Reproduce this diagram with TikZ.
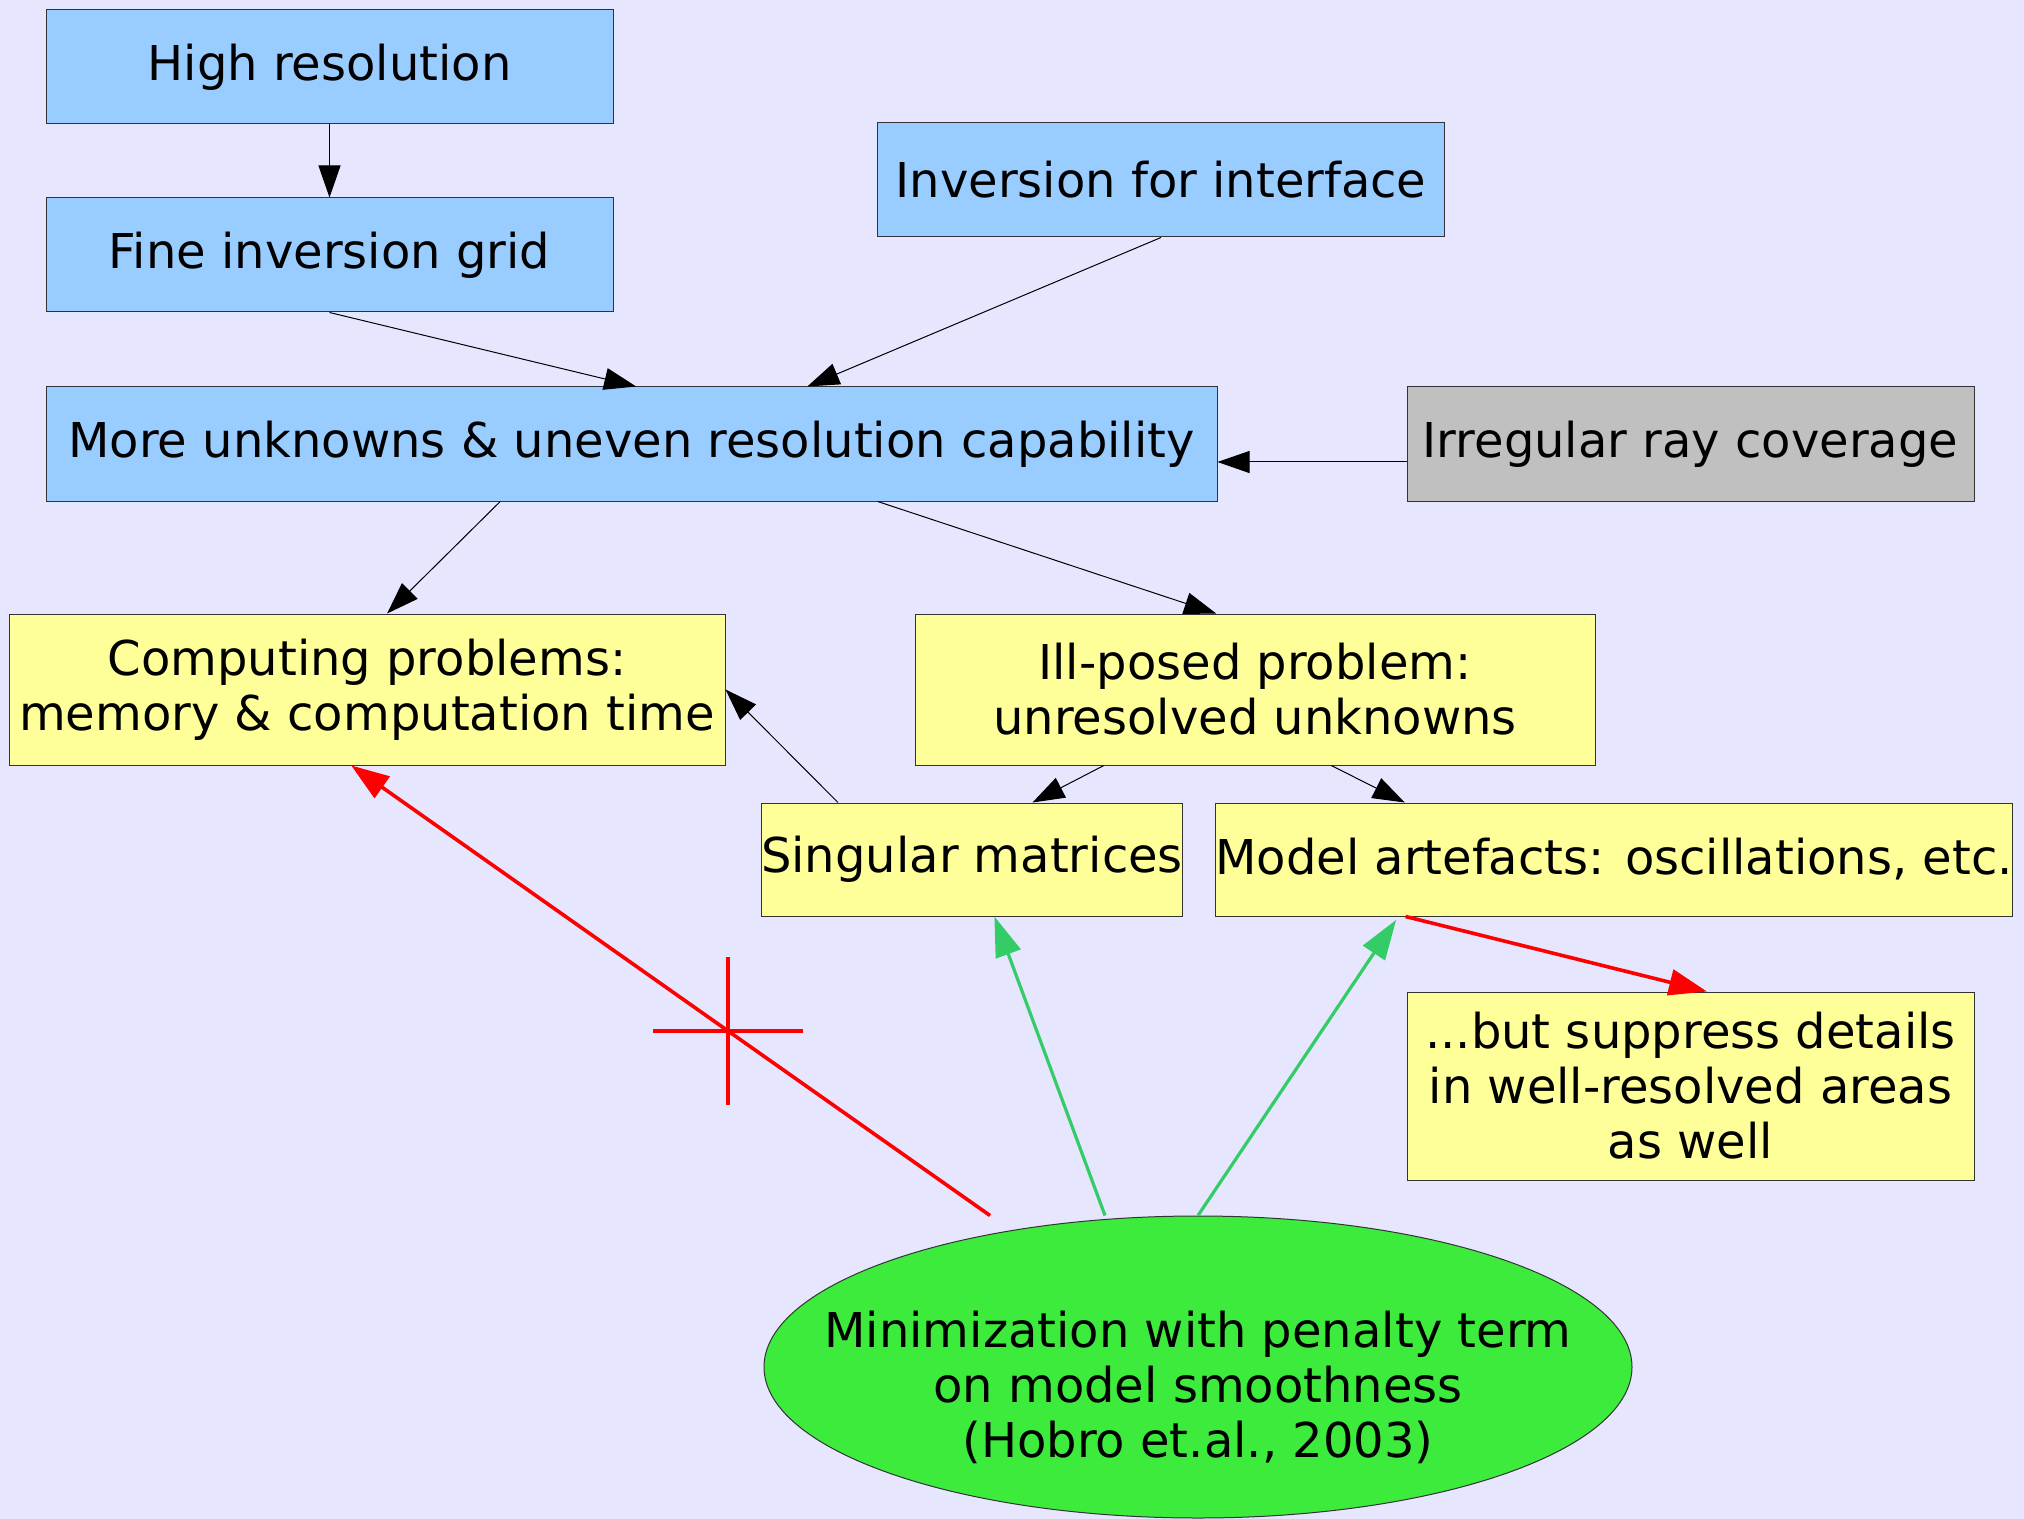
\documentclass[tikz,border=0pt]{standalone}
\usepackage{fontspec}
\setmainfont{DejaVu Sans}
\usetikzlibrary{arrows.meta,shapes.geometric,calc}

\definecolor{bgcol}{HTML}{E6E6FF}
\definecolor{boxblue}{HTML}{99CCFF}
\definecolor{boxyellow}{HTML}{FFFF99}
\definecolor{boxgray}{HTML}{C0C0C0}
\definecolor{ellgreen}{HTML}{3DEB3D}
\definecolor{arrowgreen}{HTML}{33CC66}

\begin{document}
\begin{tikzpicture}[x=0.5pt, y=-0.5pt,
    txt/.style={align=center, font=\fontsize{24}{27.5}\selectfont},
    box/.style={txt, draw=black!80, line width=0.5pt, inner sep=0pt},
    bluebox/.style={box, fill=boxblue, minimum width=283.5pt, minimum height=57pt},
    yellowbox/.style={box, fill=boxyellow},
    link/.style={line width=0.5pt, -{Triangle[length=16pt,width=11pt]}},
    redlink/.style={red, line width=1.8pt, -{Triangle[length=19pt,width=13pt]}},
    greenlink/.style={arrowgreen, line width=1.6pt, -{Triangle[length=20pt,width=13pt]}}]
    % 背景
    \path[use as bounding box, fill=bgcol] (0,0) rectangle (2024,1519);

    % 蓝色方框
    \node[bluebox] (high) at (329.5,67) {High resolution};
    \node[bluebox] (fine) at (329.5,255) {Fine inversion grid};
    \node[bluebox] (iface) at (1161,180) {Inversion for interface};
    \node[bluebox, minimum width=585.5pt] (more) at (631.5,444)
        {More unknowns \& uneven resolution capability};
    \node[box, fill=boxgray, minimum width=283.5pt, minimum height=57pt] (irreg) at (1690.5,444)
        {Irregular ray coverage};

    % 黄色方框
    \node[yellowbox, minimum width=358pt, minimum height=75.5pt] (comp) at (367,689.5)
        {Computing problems:\\memory \& computation time};
    \node[yellowbox, minimum width=340pt, minimum height=75.5pt] (ill) at (1255,689.5)
        {Ill-posed problem:\\unresolved unknowns};
    \node[yellowbox, minimum width=208pt, minimum height=56.5pt] (sing) at (972,859.5)
        {Singular matrices};
    \node[yellowbox, minimum width=397pt, minimum height=56.5pt] (model) at (1614,859.5)
        {Model artefacts: oscillations, etc.};
    \node[yellowbox, minimum width=283.5pt, minimum height=94pt] (but) at (1690.5,1086)
        {...but suppress details\\in well-resolved areas\\as well};

    % 椭圆
    \node[ellipse, draw=black!80, line width=0.5pt, fill=ellgreen, inner sep=0pt,
        minimum width=434pt, minimum height=151pt,
        label={[txt, yshift=-10pt]center:{Minimization with penalty term\\on model smoothness\\(Hobro et.al., 2003)}}]
        (mini) at (1198,1367) {};

    % 黑色箭头
    \draw[link] (high) -- (fine);
    \draw[link] (fine.south) -- ($(more.north west)!0.504!(more.north east)$);
    \draw[link] (iface.south) -- ($(more.north west)!0.65!(more.north east)$);
    \draw[link] ($(irreg.west)+(0,18)$) -- ($(more.east)+(0,18)$);
    \draw[link] ($(more.south west)!0.388!(more.south east)$) -- ($(comp.north west)!0.528!(comp.north east)$);
    \draw[link] ($(more.south west)!0.71!(more.south east)$) -- ($(ill.north west)!0.443!(ill.north east)$);
    \draw[link] ($(ill.south west)!0.278!(ill.south east)$) -- ($(sing.north west)!0.643!(sing.north east)$);
    \draw[link] ($(ill.south west)!0.612!(ill.south east)$) -- ($(model.north west)!0.238!(model.north east)$);
    \draw[link] ($(sing.north west)!0.183!(sing.north east)$) -- (comp.east);

    % 红色箭头及叉号
    \coordinate (redstart) at ($(mini.north)+(-208,0)$);
    \coordinate (redend) at ($(comp.south west)!0.478!(comp.south east)$);
    \draw[redlink] (redstart) -- (redend);
    \coordinate (cross) at ($(redstart)!0.41!(redend)$);
    \draw[red, line width=1.8pt] ($(cross)+(-75,0)$) -- ($(cross)+(75,0)$);
    \draw[red, line width=1.8pt] ($(cross)+(0,-74)$) -- ($(cross)+(0,74)$);
    \draw[redlink] ($(model.south west)!0.239!(model.south east)$) -- ($(but.north west)!0.529!(but.north east)$);

    % 绿色箭头
    \draw[greenlink] ($(mini.north)+(-93,0)$) -- ($(sing.south west)!0.553!(sing.south east)$);
    \draw[greenlink, shorten >=2pt] (mini.north) -- ($(model.south west)!0.23!(model.south east)$);
\end{tikzpicture}
\end{document}
